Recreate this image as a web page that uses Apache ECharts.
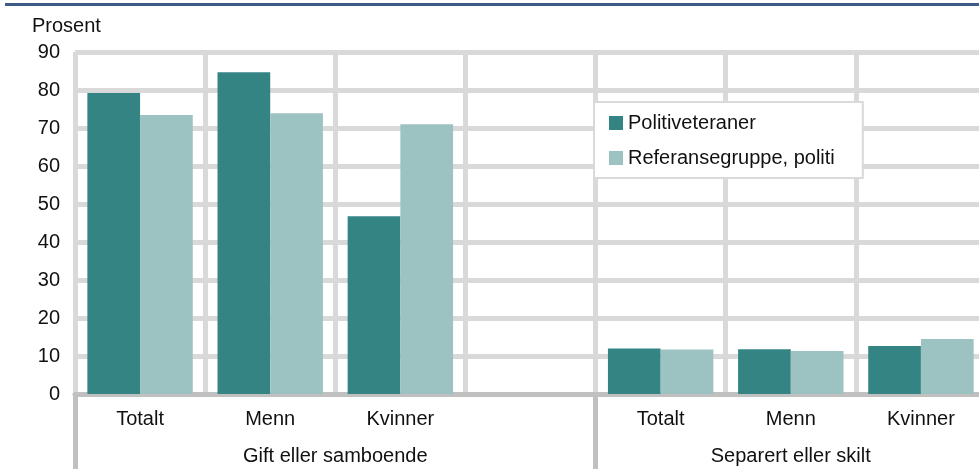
<!DOCTYPE html>
<html>
<head>
<meta charset="utf-8">
<script src="https://cdn.jsdelivr.net/npm/echarts@6/dist/echarts.min.js"></script>
<style>
  html, body { margin: 0; padding: 0; background: #fff; }
  #chart { width: 979px; height: 469px; }
</style>
</head>
<body>
<div id="chart"></div>
<script>
// kategorier (4. plass er tom skillelinje mellom gruppene)
const categories = ['Totalt', 'Menn', 'Kvinner', '', 'Totalt', 'Menn', 'Kvinner']
const groupLabels = ['Gift eller samboende', 'Separert eller skilt']
const groupCenters = [2, 5.5]
const groupEdges = [0, 4]
const veteraner = [79.2, 84.7, 46.8, null, 12.0, 11.8, 12.6]
const referanse = [73.4, 73.9, 71.0, null, 11.7, 11.3, 14.5]
const yTicks = [0, 10, 20, 30, 40, 50, 60, 70, 80, 90]

const font = 'Liberation Sans, Arial, sans-serif'
const textColor = '#111'

const chart = echarts.init( document.getElementById( 'chart' ) )

chart.setOption( {
  animation : false,
  textStyle : { fontFamily : font },
  title : {
    text : 'Prosent',
    left : 27,
    top : 11,
    textStyle : { fontFamily : font, fontSize : 20, fontWeight : 'normal', color : textColor }
  },
  graphic : [
    {
      type : 'line',
      shape : { x1 : 5, y1 : 4.5, x2 : 979, y2 : 4.5 },
      style : { stroke : '#3e5a87', lineWidth : 3 }
    }
  ],
  legend : {
    orient : 'vertical',
    left : 594,
    top : 102,
    padding : [ 11, 28, 10, 15 ],
    backgroundColor : '#fff',
    borderColor : '#d9d9d9',
    borderWidth : 2,
    itemWidth : 14,
    itemHeight : 14,
    itemGap : 15,
    icon : 'rect',
    textStyle : { fontFamily : font, fontSize : 20, color : textColor },
    data : [ 'Politiveteraner', 'Referansegruppe, politi' ]
  },
  grid : {
    left : 75,
    right : -7,
    top : 52,
    bottom : 75,
    containLabel : false,
    outerBoundsMode : 'none'
  },
  xAxis : [
    {
      type : 'category',
      data : categories,
      boundaryGap : true,
      axisLine : { show : true, lineStyle : { color : '#c0c0c0', width : 5 } },
      axisTick : { show : false },
      axisLabel : { fontFamily : font, fontSize : 20, color : textColor, margin : 15, interval : 0 },
      splitLine : { show : true, lineStyle : { color : '#d9d9d9', width : 5 } }
    },
    {
      type : 'value',
      position : 'bottom',
      min : 0,
      max : 7,
      axisLine : { show : false },
      axisTick : {
        show : true,
        inside : false,
        length : 76,
        customValues : groupEdges,
        lineStyle : { color : '#c0c0c0', width : 5 }
      },
      axisLabel : {
        fontFamily : font,
        fontSize : 20,
        color : textColor,
        margin : 52,
        customValues : groupCenters,
        formatter : v => groupLabels[ groupCenters.indexOf( v ) ] || ''
      },
      splitLine : { show : false }
    }
  ],
  yAxis : {
    type : 'value',
    min : yTicks[ 0 ],
    max : yTicks[ yTicks.length - 1 ],
    interval : 10,
    axisLine : { show : false },
    axisTick : { show : false },
    axisLabel : { fontFamily : font, fontSize : 20, color : textColor, margin : 15 },
    splitLine : { show : true, lineStyle : { color : '#d9d9d9', width : 5 } }
  },
  series : [
    {
      name : 'Politiveteraner',
      type : 'bar',
      data : veteraner,
      itemStyle : { color : '#358484' },
      barGap : '0%',
      barCategoryGap : '19%',
      z : 3
    },
    {
      name : 'Referansegruppe, politi',
      type : 'bar',
      data : referanse,
      itemStyle : { color : '#9cc3c2' },
      z : 3
    }
  ]
} )
</script>
</body>
</html>
